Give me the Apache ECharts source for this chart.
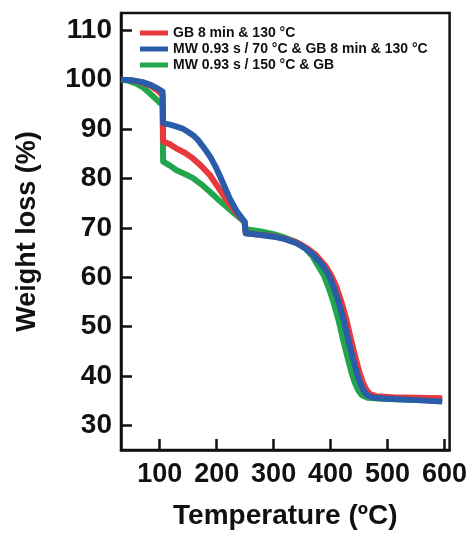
<html>
  <head>
    <meta charset="utf-8">
    <script src="https://cdn.jsdelivr.net/npm/echarts@6/dist/echarts.min.js"></script>
    <style>
      body { margin: 0; background: #fff; }
    </style>
  </head>
  <body>
    <div id="main" style="width:470px;height:536px;"></div>
    <script>
      // legend names
      var names = ['GB 8 min & 130 °C', 'MW 0.93 s / 70 °C & GB 8 min & 130 °C', 'MW 0.93 s / 150 °C & GB'];

      var xTicks = [100, 200, 300, 400, 500, 600];
      var yTicks = [30, 40, 50, 60, 70, 80, 90, 100, 110];

      // [temperature, weight %]
      var redData = [[32,100],[50,99.9],[70,99.4],[85,98.7],[95,97.9],[105,96.9],[106,87.5],[118,86.9],[129,86.1],[144,85.2],
        [158,84.1],[173,82.5],[188,80.7],[202,78.3],[217,75.7],[232,73.4],[249,71.2],[251,68.9],[275,68.6],[300,68.3],
        [325,67.6],[345,66.8],[360,65.8],[375,64.4],[392,62.1],[401,60.4],[410,58.1],[419,55],[428,51.3],[436,47.3],
        [445,43.2],[451,40.6],[457,38.6],[463,37.2],[469,36.3],[480,35.9],[510,35.7],[550,35.6],[596,35.5]];

      var blueData = [[32,100],[50,99.9],[70,99.5],[85,98.9],[95,98.3],[105,97.6],[106,91.2],[118,90.9],[130,90.5],[140,90.1],
        [150,89.4],[159,88.7],[167,87.8],[175,86.6],[182,85.5],[189,84.3],[198,82.4],[206,80.4],[215,78],[224,75.7],
        [235,73.4],[249,71.2],[251,68.9],[275,68.6],[300,68.2],[320,67.7],[340,66.9],[355,65.9],[370,64.5],[388,62.1],
        [397,60.4],[405,58.1],[414,55],[423,51.3],[431,47.3],[440,43.2],[446,40.6],[452,38.5],[458,37],[464,36.1],
        [475,35.6],[500,35.4],[550,35.1],[596,34.8]];

      var greenData = [[32,100],[45,99.8],[59,99.2],[70,98.5],[82,97.3],[95,95.9],[105,94.8],[106,83.4],[118,82.6],[129,81.7],
        [144,80.9],[158,80.1],[173,78.8],[188,77.3],[202,75.8],[217,74.3],[232,72.8],[249,71.2],[251,69.7],[275,69.3],
        [300,68.7],[320,68],[340,67.1],[355,65.9],[368,64.3],[379,62.1],[388,60.4],[396,58.1],[405,55],[414,51.3],
        [422,47.3],[431,43.2],[437,40.6],[443,38.5],[449,37],[455,36.1],[465,35.6],[490,35.4],[540,35.2],[596,35]];

      var colors = ['#e8393c', '#2a5caa', '#22a64b'];
      var font = 'Liberation Sans, Arial, sans-serif';
      var ink = '#111';

      var myChart = echarts.init(document.getElementById('main'));
      var option = {
        animation: false,
        grid: { left: 121, right: 20, top: 13, bottom: 86, show: true, borderColor: ink, borderWidth: 2.5 },
        legend: {
          orient: 'vertical', left: 135, top: 20, itemGap: 0,
          itemWidth: 28, itemHeight: 5, icon: 'rect',
          data: names,
          textStyle: { fontFamily: font, fontWeight: 'bold', fontSize: 14, lineHeight: 16, color: ink }
        },
        xAxis: {
          type: 'value', min: 32, max: 609,
          name: 'Temperature (ºC)', nameLocation: 'middle', nameGap: 52,
          nameTextStyle: { fontFamily: font, fontWeight: 'bold', fontSize: 28, color: ink },
          splitLine: { show: false },
          axisLine: { lineStyle: { color: ink, width: 2.5 } },
          axisTick: { inside: true, length: 11, customValues: xTicks, lineStyle: { color: ink, width: 2.5 } },
          axisLabel: { customValues: xTicks, margin: 11, fontFamily: font, fontWeight: 'bold', fontSize: 27, color: ink }
        },
        yAxis: {
          type: 'value', min: 25, max: 113.5,
          name: 'Weight loss (%)', nameLocation: 'middle', nameGap: 80,
          nameTextStyle: { fontFamily: font, fontWeight: 'bold', fontSize: 27, color: ink },
          splitLine: { show: false },
          axisLine: { lineStyle: { color: ink, width: 2.5 } },
          axisTick: { inside: true, length: 11, customValues: yTicks, lineStyle: { color: ink, width: 2.5 } },
          axisLabel: { customValues: yTicks, margin: 9, fontFamily: font, fontWeight: 'bold', fontSize: 28, color: ink }
        },
        // drawn green first, blue on top
        series: [
          { name: names[2], type: 'line', data: greenData, showSymbol: false, color: colors[2],
            lineStyle: { width: 6, join: 'round' } },
          { name: names[0], type: 'line', data: redData, showSymbol: false, color: colors[0],
            lineStyle: { width: 6, join: 'round' } },
          { name: names[1], type: 'line', data: blueData, showSymbol: false, color: colors[1],
            lineStyle: { width: 6, join: 'round' } }
        ]
      };
      myChart.setOption(option);
    </script>
  </body>
</html>
